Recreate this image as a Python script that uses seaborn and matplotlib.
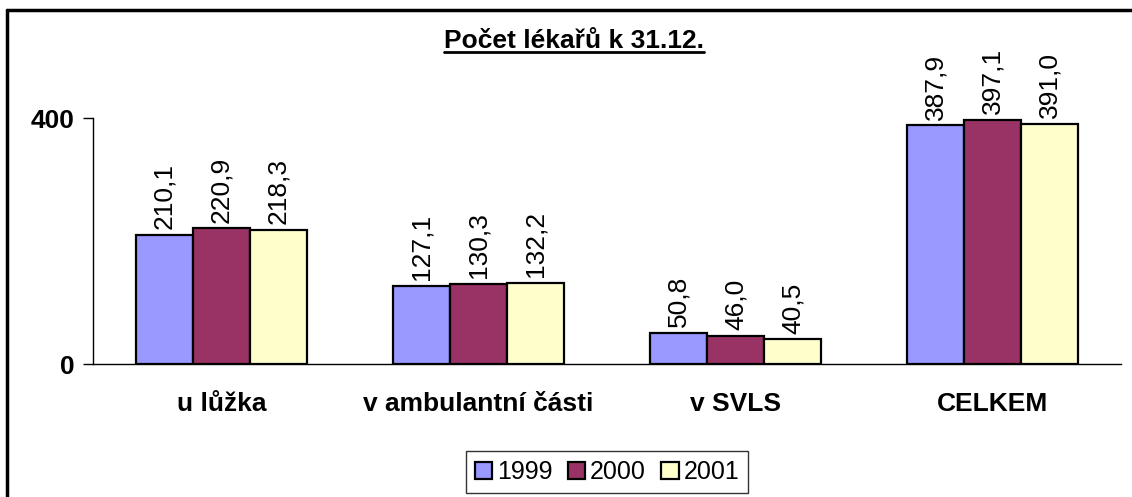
import numpy as np
import pandas as pd
import seaborn as sns
import matplotlib.pyplot as plt
from matplotlib.lines import Line2D
from matplotlib.ticker import FixedLocator

categories = ["u lůžka", "v ambulantní části", "v SVLS", "CELKEM"]
years = ["1999", "2000", "2001"]
v1999 = [210.1, 127.1, 50.8, 387.9]
v2000 = [220.9, 130.3, 46.0, 397.1]
v2001 = [218.3, 132.2, 40.5, 391.0]
colors = ["#9999FF", "#993366", "#FFFFCC"]

df = pd.DataFrame({
    "kategorie": categories * 3,
    "rok": [y for y in years for _ in categories],
    "pocet": v1999 + v2000 + v2001,
})

sns.set_style("white")
plt.rcParams["font.family"] = ["Liberation Sans", "DejaVu Sans"]
plt.rcParams["text.color"] = "black"
plt.rcParams["xtick.color"] = "black"
plt.rcParams["ytick.color"] = "black"

fig = plt.figure(figsize=(11.32, 4.97), dpi=100)
ax = fig.add_axes([93 / 1132, 1 - 364 / 497, (1121 - 93) / 1132, (364 - 118) / 497])

sns.barplot(data=df, x="kategorie", y="pocet", hue="rok", palette=colors,
            width=0.666, gap=0, edgecolor="black", linewidth=1.6, ax=ax,
            legend=True, saturation=1)

for cont in ax.containers:
    labels = [f"{b.get_height():.1f}".replace(".", ",") for b in cont]
    ax.bar_label(cont, labels=labels, rotation=90, padding=4, fontsize=19, clip_on=False)

ax.set_ylim(0, 400)
ax.set_xlim(-0.5, 3.5)
ax.set_yticks([0, 400])
ax.set_yticklabels(["0", "400"], fontsize=19, fontweight="bold")
ax.set_xticks(range(4))
ax.set_xticklabels(categories, fontsize=19, fontweight="bold")
ax.xaxis.set_minor_locator(FixedLocator([-0.5, 0.5, 1.5, 2.5, 3.5]))
ax.tick_params(axis="x", which="major", length=0, pad=20)
ax.tick_params(axis="x", which="minor", length=7, width=1, direction="out", color="black")
ax.tick_params(axis="y", length=7, width=1, direction="out", color="black", left=True, pad=6)
ax.set_xlabel("")
ax.set_ylabel("")
for side in ["top", "right"]:
    ax.spines[side].set_visible(False)
for side in ["left", "bottom"]:
    ax.spines[side].set_color("black")
    ax.spines[side].set_linewidth(1)

handles, lbls = ax.get_legend_handles_labels()
leg = ax.legend(handles, lbls, loc="center", bbox_to_anchor=(607 / 1132, 1 - 472 / 497),
                bbox_transform=fig.transFigure, ncol=3, fontsize=18, frameon=True,
                fancybox=False, edgecolor="black", handlelength=0.7, handleheight=0.7,
                handletextpad=0.2, columnspacing=0.6, borderpad=0.35)
leg.get_frame().set_linewidth(1)

title = fig.text(574 / 1132, 1 - 41 / 497, "Počet lékařů k 31.12.", ha="center", va="center",
                 fontsize=19, fontweight="bold")

# outer frame: only left and top edges are inside the image
x0, y0 = 7 / 1132, 1 - 10 / 497
fig.lines.append(Line2D([x0, x0], [0, y0], transform=fig.transFigure, color="black", linewidth=2.5))
fig.lines.append(Line2D([x0, 1], [y0, y0], transform=fig.transFigure, color="black", linewidth=2.5))

fig.canvas.draw()
bb = title.get_window_extent()
fig.lines.append(Line2D([bb.x0 / fig.bbox.width, bb.x1 / fig.bbox.width],
                        [(bb.y0 + 1) / fig.bbox.height] * 2, transform=fig.transFigure,
                        color="black", linewidth=2))

fig.savefig("out.png", dpi=100)
